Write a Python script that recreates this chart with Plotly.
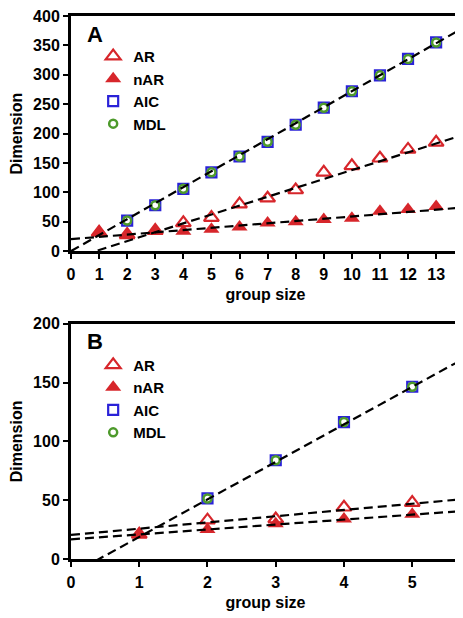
import plotly.graph_objects as go

# ---------------- data ----------------
# Panel A
xA = [1, 2, 3, 4, 5, 6, 7, 8, 9, 10, 11, 12, 13]
arA = [32, 28, 35, 48, 57, 80, 90, 104, 134, 145, 158, 173, 185]
narA = [32, 26, 34, 34, 37, 41, 48, 50, 54, 56, 68, 71, 76]
xA_aic = [2, 3, 4, 5, 6, 7, 8, 9, 10, 11, 12, 13]
aicA = [52, 78, 106, 134, 161, 186, 215, 244, 272, 299, 327, 355]
mdlA = [52, 78, 106, 134, 161, 186, 215, 244, 272, 299, 327, 355]
# fitted lines (slope, intercept)
fitA_slope = [15.1, 3.85, 27.2]
fitA_icpt = [-13.2, 20.4, 0.0]

# Panel B
xB = [1, 2, 3, 4, 5]
arB = [21, 33, 34, 44, 48]
narB = [21, 25, 30, 34, 38]
xB_aic = [2, 3, 4, 5]
aicB = [51.5, 84, 116.5, 146.5]
mdlB = [51.5, 84, 116.5, 146.5]
fitB_slope = [5.3, 4.2, 31.9]
fitB_icpt = [20.5, 16.7, -13.1]

xmaxA = 13.85
xmaxB = 5.7

RED = "#d7262b"
BLUE = "#2a22d8"
GREEN = "#4d9a2b"

FONT = "Liberation Sans"

fig = go.Figure()


def add_panel(xa, ya, x, ar, nar, xaic, aic, mdl, slopes, icpts, xmax, legend):
    fig.add_trace(go.Scatter(x=x, y=ar, mode="markers", name="AR", legend=legend,
                             xaxis=xa, yaxis=ya,
                             marker=dict(symbol="triangle-up-open", size=13, color=RED,
                                         line=dict(width=2.2, color=RED))))
    fig.add_trace(go.Scatter(x=x, y=nar, mode="markers", name="nAR", legend=legend,
                             xaxis=xa, yaxis=ya,
                             marker=dict(symbol="triangle-up", size=14, color=RED,
                                         line=dict(width=0))))
    fig.add_trace(go.Scatter(x=xaic, y=aic, mode="markers", name="AIC", legend=legend,
                             xaxis=xa, yaxis=ya,
                             marker=dict(symbol="square-open", size=10, color=BLUE,
                                         line=dict(width=2.2, color=BLUE))))
    fig.add_trace(go.Scatter(x=xaic, y=mdl, mode="markers", name="MDL", legend=legend,
                             xaxis=xa, yaxis=ya,
                             marker=dict(symbol="circle", size=8, color="white",
                                         line=dict(width=2.5, color=GREEN))))
    for s, b in zip(slopes, icpts):
        xs = [0, xmax]
        ys = [b + s * v for v in xs]
        fig.add_trace(go.Scatter(x=xs, y=ys, mode="lines", showlegend=False,
                                 xaxis=xa, yaxis=ya, hoverinfo="skip",
                                 line=dict(color="black", width=2.2, dash="9px,5px")))


add_panel("x", "y", xA, arA, narA, xA_aic, aicA, mdlA, fitA_slope, fitA_icpt, xmaxA, "legend")
add_panel("x2", "y2", xB, arB, narB, xB_aic, aicB, mdlB, fitB_slope, fitB_icpt, xmaxB, "legend2")

axis_common = dict(showline=True, linewidth=3, linecolor="black", mirror=True,
                   ticks="outside", ticklen=5, tickwidth=2, tickcolor="black",
                   showgrid=False, zeroline=False, ticklabeloverflow="allow",
                   tickfont=dict(family=FONT, size=16, color="black", weight="bold"))

title_font = dict(family=FONT, size=16, color="black", weight="bold")
leg_font = dict(family=FONT, size=15, color="black", weight="bold")

# page body has an 8px margin: figure is 455x610, placed at (8, 8)
fig.update_layout(
    width=455, height=610,
    margin=dict(l=63, r=0, t=6, b=59),
    paper_bgcolor="white", plot_bgcolor="white",
    showlegend=True,
    xaxis=dict(domain=[0, 1], anchor="y", range=[0, xmaxA], tickvals=list(range(0, 14)),
               ticklabelstandoff=2,
               title=dict(text="group size", font=title_font, standoff=7), **axis_common),
    yaxis=dict(domain=[0.567, 1], anchor="x", range=[0, 400], tickvals=list(range(0, 401, 50)),
               title=dict(text="Dimension", font=title_font, standoff=14), **axis_common),
    xaxis2=dict(domain=[0, 1], anchor="y2", range=[0, xmaxB], tickvals=list(range(0, 6)),
                ticklabelstandoff=2,
                title=dict(text="group size", font=title_font, standoff=7), **axis_common),
    yaxis2=dict(domain=[0, 0.433], anchor="x2", range=[0, 200], tickvals=list(range(0, 201, 50)),
                title=dict(text="Dimension", font=title_font, standoff=14), **axis_common),
    legend=dict(x=0.057, y=0.956, xanchor="left", yanchor="top", bgcolor="rgba(0,0,0,0)",
                font=leg_font, tracegroupgap=0, itemwidth=30),
    legend2=dict(x=0.057, y=0.3875, xanchor="left", yanchor="top", bgcolor="rgba(0,0,0,0)",
                 font=leg_font, tracegroupgap=0, itemwidth=30),
    annotations=[
        dict(text="A", xref="paper", yref="paper", x=0.035, y=0.993, xanchor="left", yanchor="top",
             showarrow=False, font=dict(family=FONT, size=22, color="black", weight="bold")),
        dict(text="B", xref="paper", yref="paper", x=0.035, y=0.427, xanchor="left", yanchor="top",
             showarrow=False, font=dict(family=FONT, size=22, color="black", weight="bold")),
    ],
)

fig.write_html("out.html")
